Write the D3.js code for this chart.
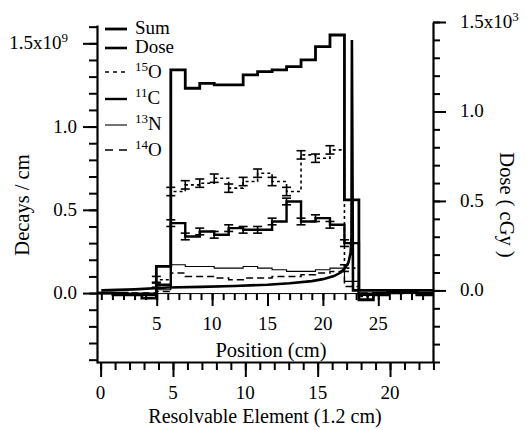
<!DOCTYPE html>
<html><head><meta charset="utf-8">
<script src="https://cdn.jsdelivr.net/npm/d3@7"></script>
</head><body style="margin:0">
<svg id="chart" width="527" height="430"></svg>
<script>
// Resolvable element index (bins of 1.2 cm)
const elements = d3.range(0, 23);

// Decays / cm (x1e9) per resolvable element
const sumDecays = [0.0, -0.01, -0.01, -0.03, 0.16, 1.34, 1.23, 1.26, 1.25, 1.25, 1.31, 1.33, 1.34, 1.36, 1.40, 1.48, 1.55, 0.56, -0.04, -0.01, 0.01, 0.01, -0.01];
const o15 = [0.0, 0.0, -0.01, -0.01, 0.08, 0.61, 0.65, 0.66, 0.69, 0.63, 0.67, 0.72, 0.67, 0.61, 0.83, 0.81, 0.86, 0.15, -0.02, 0.0, 0.01, 0.0, 0.0];
const c11 = [0.0, 0.0, -0.01, -0.01, 0.05, 0.42, 0.34, 0.37, 0.35, 0.39, 0.38, 0.38, 0.43, 0.55, 0.43, 0.45, 0.41, 0.30, -0.01, 0.0, 0.0, 0.01, 0.0];
const n13 = [0.0, 0.0, 0.0, 0.0, 0.02, 0.17, 0.16, 0.16, 0.15, 0.15, 0.16, 0.15, 0.14, 0.13, 0.13, 0.14, 0.15, 0.07, 0.0, 0.0, 0.0, 0.0, 0.0];
const o14 = [0.0, 0.0, 0.0, 0.0, 0.01, 0.12, 0.10, 0.10, 0.09, 0.08, 0.09, 0.09, 0.10, 0.10, 0.11, 0.12, 0.13, 0.04, 0.0, 0.0, 0.0, 0.0, 0.0];

// Statistical uncertainties (x1e9)
const o15Err = [0, 0, 0, 0, 0.02, 0.025, 0.025, 0.025, 0.025, 0.025, 0.025, 0.025, 0.025, 0.025, 0.025, 0.025, 0.025, 0.02, 0, 0, 0, 0, 0];
const c11Err = [0, 0, 0, 0, 0.015, 0.02, 0.02, 0.02, 0.02, 0.02, 0.02, 0.02, 0.02, 0.02, 0.02, 0.02, 0.02, 0.02, 0, 0, 0, 0, 0];

// Dose (x1e3 cGy) along depth in cm
const doseCm  = [0, 3, 6, 9, 12, 15, 17, 19, 20, 21, 21.6, 22.0, 22.3, 22.5, 22.58, 22.62, 22.72, 25, 30];
const doseVal = [0.0, 0.006, 0.016, 0.02, 0.025, 0.032, 0.04, 0.052, 0.063, 0.08, 0.1, 0.125, 0.155, 0.21, 0.3, 1.40, 0.0, 0.0, 0.0];

// Axis ticks
const leftMajor = [0, 0.5, 1.0, 1.5];
const leftMinor = d3.range(-4, 17).map(d => d / 10);
const rightMajor = [0, 0.5, 1.0, 1.5];
const rightMinor = d3.range(-4, 16).map(d => d / 10);
const posMajor = [5, 10, 15, 20, 25];
const posMinor = d3.range(0, 30);
const elMajor = [0, 5, 10, 15, 20];
const elMinor = d3.range(0, 24);

const FONT = `"Liberation Serif"`;
const svg = d3.select("#chart");

const xEl  = d3.scaleLinear().domain([-0.25, 22.97]).range([97, 433]);
const xPos = d3.scaleLinear().domain([-0.39, 29.94]).range([97, 433]);
const yL   = d3.scaleLinear().domain([-0.42, 1.61]).range([363, 25]);
const yR   = d3.scaleLinear().domain([-0.4, 1.5]).range([362, 22]);
const binShift = -0.15;

// Plain text label with the serif face set on the element itself
function label(parent, x, y, size, str) {
  return parent.append("text").attr("x", x).attr("y", y)
    .attr("font-size", size).attr("font-family", FONT).attr("fill", "#000").text(str);
}

function styleAxis(g, w) {
  g.selectAll("path.domain").attr("stroke", "#000").attr("stroke-width", w);
  g.selectAll(".tick line").attr("stroke", "#000").attr("stroke-width", 2);
  g.selectAll("text").remove();
}

// Left axis
const gL = svg.append("g").attr("transform", "translate(97,0)");
gL.call(d3.axisLeft(yL).tickValues(leftMinor).tickSize(8).tickSizeOuter(0).tickFormat(""));
styleAxis(gL, 2.2);
const gL2 = svg.append("g").attr("transform", "translate(97,0)");
gL2.call(d3.axisLeft(yL).tickValues(leftMajor).tickSize(14).tickSizeOuter(0));
gL2.select("path.domain").remove();
styleAxis(gL2, 2);
leftMajor.forEach(v => {
  const t = label(svg, 77, yL(v) + 6, 19, v === 1.5 ? "1.5x10" : d3.format(".1f")(v))
    .attr("text-anchor", "end");
  if (v === 1.5) {
    t.attr("x", 68);
    t.append("tspan").attr("font-size", 13).attr("dy", -7).text("9");
  }
});

// Right axis
const gR = svg.append("g").attr("transform", "translate(433,0)");
gR.call(d3.axisRight(yR).tickValues(rightMinor).tickSize(7).tickSizeOuter(0).tickFormat(""));
styleAxis(gR, 2.2);
const gR2 = svg.append("g").attr("transform", "translate(433,0)");
gR2.call(d3.axisRight(yR).tickValues(rightMajor).tickSize(13).tickSizeOuter(0));
gR2.select("path.domain").remove();
styleAxis(gR2, 2);
rightMajor.forEach(v => {
  const t = label(svg, 460, yR(v) + 6, 19, v === 1.5 ? "1.5x10" : d3.format(".1f")(v));
  if (v === 1.5) t.append("tspan").attr("font-size", 13).attr("dy", -7).text("3");
});

// Position axis along the zero line
const y0 = yL(0);
const gP = svg.append("g").attr("transform", `translate(0,${y0})`);
gP.call(d3.axisBottom(xPos).tickValues(posMinor).tickSize(7).tickSizeOuter(0).tickFormat(""));
styleAxis(gP, 1);
const gP2 = svg.append("g").attr("transform", `translate(0,${y0})`);
gP2.call(d3.axisBottom(xPos).tickValues(posMajor).tickSize(13).tickSizeOuter(0));
gP2.select("path.domain").remove();
styleAxis(gP2, 1);
posMajor.forEach(v => label(svg, xPos(v), y0 + 37, 19, String(v)).attr("text-anchor", "middle"));

// Resolvable element axis
const gE = svg.append("g").attr("transform", "translate(0,362)");
gE.call(d3.axisBottom(xEl).tickValues(elMinor).tickSize(8).tickSizeOuter(0).tickFormat(""));
styleAxis(gE, 2.2);
const gE2 = svg.append("g").attr("transform", "translate(0,362)");
gE2.call(d3.axisBottom(xEl).tickValues(elMajor).tickSize(15).tickSizeOuter(0));
gE2.select("path.domain").remove();
styleAxis(gE2, 2);
elMajor.forEach(v => label(svg, xEl(v), 399, 19, String(v)).attr("text-anchor", "middle"));

// Axis titles
label(svg, 271, 357, 20.5, "Position (cm)").attr("text-anchor", "middle");
label(svg, 265, 423, 20, "Resolvable Element (1.2 cm)").attr("text-anchor", "middle");
label(svg, 0, 0, 20.5, "Decays / cm").attr("text-anchor", "middle")
  .attr("transform", "translate(29,205) rotate(-90)");
label(svg, 0, 0, 20.5, "Dose ( cGy )").attr("text-anchor", "middle")
  .attr("transform", "translate(500,205) rotate(90)");

// Step series
const stepLine = d3.line().curve(d3.curveStepAfter);
function stepPoints(vals) {
  const pts = elements.map((k, i) => [xEl(k + binShift), yL(vals[i])]);
  pts.push([xEl(22.97), yL(vals[vals.length - 1])]);
  return pts;
}

const series = [
  { vals: o14, width: 1.5, dash: "7,4" },
  { vals: n13, width: 1.1, dash: null },
  { vals: o15, width: 1.6, dash: "3,3" },
  { vals: c11, width: 2.4, dash: null },
  { vals: sumDecays, width: 2.8, dash: null }
];
series.forEach(s => {
  svg.append("path").attr("d", stepLine(stepPoints(s.vals)))
    .attr("fill", "none").attr("stroke", "#000").attr("stroke-width", s.width)
    .attr("stroke-dasharray", s.dash);
});

// Dose curve
svg.append("path")
  .attr("d", d3.line()(doseCm.map((c, i) => [xPos(c), yR(doseVal[i])])))
  .attr("fill", "none").attr("stroke", "#000").attr("stroke-width", 2.6);

// Error bars
function errorBars(vals, errs) {
  const g = svg.append("g").attr("stroke", "#000").attr("stroke-width", 1.6);
  elements.forEach((k, i) => {
    if (!errs[i]) return;
    const x = xEl(k + binShift);
    const yt = yL(vals[i] + errs[i]), yb = yL(vals[i] - errs[i]);
    g.append("line").attr("x1", x).attr("x2", x).attr("y1", yt).attr("y2", yb);
    g.append("line").attr("x1", x - 4.5).attr("x2", x + 4.5).attr("y1", yt).attr("y2", yt);
    g.append("line").attr("x1", x - 4.5).attr("x2", x + 4.5).attr("y1", yb).attr("y2", yb);
  });
}
errorBars(o15, o15Err);
errorBars(c11, c11Err);

// Legend
const legendNames = ["Sum", "Dose", "O", "C", "N", "O"];
const legendMass  = ["", "", "15", "11", "13", "14"];
const legendWidth = [2.8, 2.6, 1.6, 2.4, 1.1, 1.5];
const legendDash  = [null, null, "4,4", null, null, "8,6"];
const legendLineY = [29, 48, 72, 99, 125, 150];
const legendTextY = [34, 53, 78, 104, 130, 156];
legendNames.forEach((name, i) => {
  svg.append("line").attr("x1", 105).attr("x2", 127)
    .attr("y1", legendLineY[i]).attr("y2", legendLineY[i])
    .attr("stroke", "#000").attr("stroke-width", legendWidth[i])
    .attr("stroke-dasharray", legendDash[i]);
  const t = label(svg, 135, legendTextY[i], 19, "");
  if (legendMass[i]) {
    t.append("tspan").attr("font-size", 13).attr("dy", -7).text(legendMass[i]);
    t.append("tspan").attr("dy", 7).text(name);
  } else {
    t.text(name);
  }
});
</script>
</body></html>
